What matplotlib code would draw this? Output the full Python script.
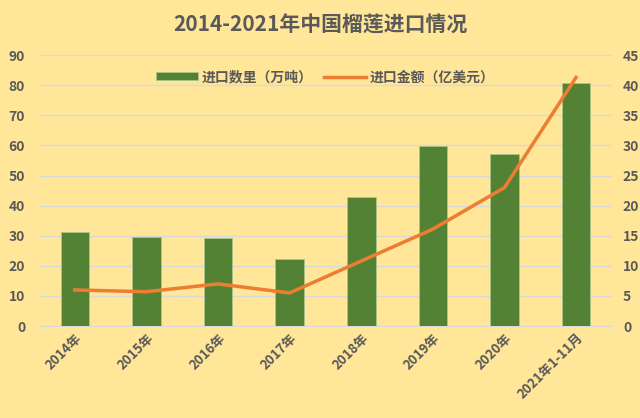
import matplotlib.pyplot as plt
import numpy as np

plt.rcParams['font.family'] = ['Noto Sans CJK SC', 'DejaVu Sans']

years = ['2014年', '2015年', '2016年', '2017年', '2018年', '2019年', '2020年', '2021年1-11月']
qty = [31.2, 29.6, 29.2, 22.3, 42.9, 59.8, 57.2, 80.6]   # 万吨
amount = [6.0, 5.7, 7.0, 5.5, 10.8, 16.1, 23.0, 41.3]    # 亿美元

bg = '#FFE699'
txt = '#595959'

fig = plt.figure(figsize=(6.4, 4.18), dpi=100, facecolor=bg)
ax = fig.add_axes([0.061, 0.22, 0.895, 0.648])
ax.set_facecolor(bg)
x = np.arange(len(years))

ax.bar(x, qty, width=0.4, color='#548235', edgecolor='#A9C48A', linewidth=0.6,
       label='进口数里（万吨）', zorder=3)
ax.set_ylim(0, 90)
ax.set_yticks(range(0, 91, 10))
ax.set_xlim(-0.5, len(years) - 0.5)
ax.grid(axis='y', color='#D9D9D9', linewidth=1, zorder=0)
ax.set_axisbelow(True)

ax2 = ax.twinx()
ax2.plot(x, amount, color='#ED7D31', linewidth=2.5, label='进口金额（亿美元）', zorder=4)
ax2.set_ylim(0, 45)
ax2.set_yticks(range(0, 46, 5))

for a in (ax, ax2):
    for s in a.spines.values():
        s.set_visible(False)
    a.tick_params(length=0, colors=txt, labelsize=10)
    for t in a.get_yticklabels():
        t.set_fontweight('bold')
ax.spines['bottom'].set_visible(True)
ax.spines['bottom'].set_color('#D9D9D9')
ax.tick_params(axis='y', pad=10)
ax2.tick_params(axis='y', pad=8)

ax.set_xticks(x)
ax.set_xticklabels(years, rotation=45, ha='right', rotation_mode='anchor',
                   fontsize=9.5, fontweight='bold')

h1, l1 = ax.get_legend_handles_labels()
h2, l2 = ax2.get_legend_handles_labels()
ax2.legend(h1 + h2, l1 + l2, loc='upper center', bbox_to_anchor=(0.5, 0.99), ncol=2,
           frameon=False, prop={'size': 10, 'weight': 'bold'}, labelcolor=txt,
           handlelength=3.0, handleheight=0.5, columnspacing=0.8, handletextpad=0.3)

fig.suptitle('2014-2021年中国榴莲进口情况', x=0.5, y=0.965, fontsize=15,
             fontweight='bold', color=txt)

fig.savefig('out.png', dpi=100, facecolor=bg)
